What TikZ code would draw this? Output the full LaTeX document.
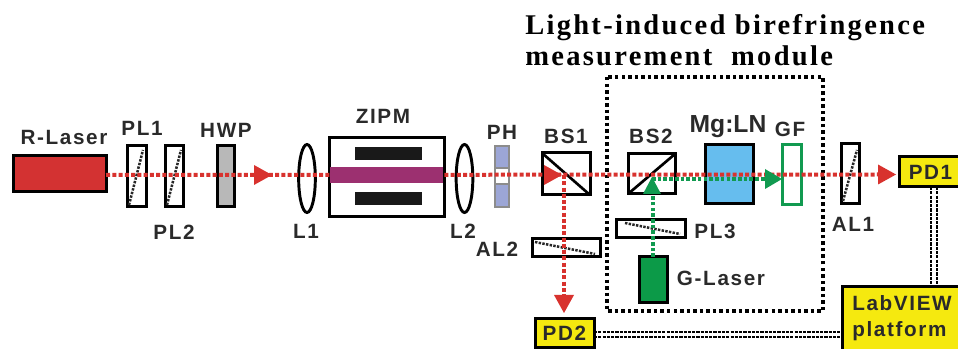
\documentclass[tikz,border=0pt]{standalone}
\usepackage{fontspec}
\setmainfont{Liberation Sans}
\newfontfamily\titlefont[LetterSpace=8]{Liberation Serif}
\newfontfamily\lblfont[LetterSpace=8]{Liberation Sans}
\usetikzlibrary{arrows.meta,shapes.geometric}
\definecolor{beamred}{HTML}{D8322E}
\definecolor{laserred}{HTML}{D33232}
\definecolor{beamgreen}{HTML}{119A50}
\definecolor{lasergreen}{HTML}{0C9A48}
\definecolor{zipmpurple}{HTML}{9C3070}
\definecolor{crystal}{HTML}{66BDEE}
\definecolor{phblue}{HTML}{9CA6D6}
\definecolor{pdyellow}{HTML}{F5E90F}
\definecolor{txt}{HTML}{2A2A2A}
\tikzset{
  x=0.75pt,y=-0.75pt,
  part/.style={draw=black,line width=2.25pt,inner sep=0pt,outer sep=0pt,fill=white},
  plate/.style={draw=black,line width=2.25pt,inner sep=0pt,outer sep=0pt,fill=white},
  lbl/.style={font=\fontsize{15.5}{15.5}\bfseries\lblfont,text=txt,inner sep=0pt},
  pdbox/.style={part,fill=pdyellow,font=\fontsize{15.5}{16}\bfseries\lblfont,text=txt,align=center},
  redbeam/.style={draw=beamred,line width=3pt,dash pattern=on 3pt off 1.7pt},
  greenbeam/.style={draw=beamgreen,line width=2.7pt,dash pattern=on 2.7pt off 1.6pt},
  redhead/.style={fill=beamred,draw=none},
  greenhead/.style={fill=beamgreen,draw=none},
  axisdots/.style={draw=black!85,line width=1.9pt,dash pattern=on 1.8pt off 1pt},
  signal/.style={draw=black,line width=1.5pt,dash pattern=on 2.4pt off 0.8pt},
  lens/.style={draw=black,line width=2.2pt,ellipse,inner sep=0pt,outer sep=0pt},
  title/.style={font=\fontsize{21.4}{21.4}\bfseries\titlefont,text=black,inner sep=0pt,anchor=base west},
}
\newcommand\pxbox[6][]{%
  \pgfmathsetmacro\cxx{(#3+#5)/2}\pgfmathsetmacro\cyy{(#4+#6)/2}%
  \node[#1,minimum width={(#5-#3)*0.75pt},minimum height={(#6-#4)*0.75pt}] (#2) at (\cxx,\cyy)}
\begin{document}
\begin{tikzpicture}
\useasboundingbox (0,0) rectangle (958,349);
% module frame
\draw[black,line width=2.8pt,dash pattern=on 2.6pt off 2.3pt] (607,77) rectangle (823,311);
% signal lines
\pxbox[pdbox]{pdtwo}{535}{319}{594}{348}{PD2};
\pxbox[pdbox]{pdone}{899}{157}{962}{187}{PD1};
\pxbox[pdbox]{lab}{842}{287}{975}{353}{};
\node[font=\fontsize{15.5}{19}\bfseries\lblfont,text=txt,align=left,anchor=west,inner sep=0pt] (labtext) at (852,318) {LabVIEW\\platform};
\coordinate (s1) at (930.5,187); \coordinate (s2) at (936.5,187);
\draw[signal] (s1) -- (s1 |- lab.north);
\draw[signal] (s2) -- (s2 |- lab.north);
\coordinate (s3) at (594,332.5); \coordinate (s4) at (594,337.5);
\draw[signal] (s3) -- (s3 -| lab.west);
\draw[signal] (s4) -- (s4 -| lab.west);
% sources
\pxbox[part,fill=laserred]{rlaser}{13}{156}{106}{192}{};
\pxbox[part,fill=lasergreen]{glaser}{639}{257}{667}{303}{};
% ZIPM
\pxbox[part]{zipm}{329}{138}{444}{217}{};
\pxbox[fill=black!90,inner sep=0pt,outer sep=0pt]{magtop}{355}{147}{422}{160}{};
\pxbox[fill=black!90,inner sep=0pt,outer sep=0pt]{magbot}{355}{192}{422}{205}{};
% plates
\pxbox[plate]{plone}{127}{146}{146}{207}{};
\pxbox[plate]{pltwo}{165}{146}{183}{207}{};
\pxbox[part,fill=black!28]{hwp}{217}{146}{234}{207}{};
\node[lens,minimum width=12.5pt,minimum height=51pt] (lone) at (307,178.5) {};
\node[lens,minimum width=12.5pt,minimum height=51pt] (ltwo) at (464.5,178.5) {};
\pxbox[draw=black!45,line width=0.8pt,fill=phblue,inner sep=0pt,outer sep=0pt]{phtop}{495}{146}{509}{168}{};
\pxbox[draw=black!45,line width=0.8pt,fill=phblue,inner sep=0pt,outer sep=0pt]{phbot}{495}{184}{509}{207}{};
\draw[black!45,line width=0.8pt] (phtop.south west) -- (phbot.north west) (phtop.south east) -- (phbot.north east);
\pxbox[part]{bsone}{542}{153}{590}{195}{};
\pxbox[part]{bstwo}{628}{154}{675}{194}{};
\draw[black,line width=2pt] (bsone.north west) -- (bsone.south east);
\draw[black,line width=2pt] (bstwo.south west) -- (bstwo.north east);
\pxbox[plate]{altwo}{532}{239}{600}{257}{};
\pxbox[plate]{plthree}{616}{220}{685}{238}{};
\pxbox[plate]{alone}{841}{144}{859}{204}{};
\pxbox[part,fill=crystal]{mgln}{705}{145}{753}{204}{};
\pxbox[draw=beamgreen,line width=2.25pt,fill=white,inner sep=0pt,outer sep=0pt]{gf}{782}{145}{801}{205}{};
% polariser axes
\draw[axisdots] ([shift={(2,-2)}]plone.south west) -- ([shift={(-3,4)}]plone.north east);
\draw[axisdots] ([shift={(2,-2)}]pltwo.south west) -- ([shift={(-2,4)}]pltwo.north east);
\draw[axisdots] ([shift={(3,3)}]altwo.north west) -- ([shift={(-5,-3)}]altwo.south east);
\draw[axisdots] ([shift={(9,3)}]plthree.north west) -- ([shift={(-5,-4)}]plthree.south east);
\draw[axisdots] ([shift={(2,-3)}]alone.south west) -- ([shift={(-2,6)}]alone.north east);
% beams
\coordinate (ra) at (rlaser.east |- 0,175);
\coordinate (rb) at (878,174.5);
\coordinate (downa) at (564,175);
\coordinate (downb) at (564,295);
\draw[redbeam] (ra) -- (rb);
\draw[redbeam] (downa) -- (downb);
\pxbox[fill=zipmpurple,inner sep=0pt,outer sep=0pt]{rod}{330}{167}{443}{183}{};
\draw[greenbeam] (glaser.north) -- (bstwo.south -| glaser.north);
\draw[greenbeam] (652,179) -- (765,179);
% arrowheads
\coordinate (h1) at (254,175);
\fill[redhead] (h1) ++(0,-10) -- ++(18,10) -- ++(-18,10) -- cycle;
\coordinate (h2) at (544,175);
\fill[redhead] (h2) ++(0,-10) -- ++(18,10) -- ++(-18,10) -- cycle;
\fill[redhead] (rb) ++(0,-10) -- ++(18,10) -- ++(-18,10) -- cycle;
\fill[redhead] (downb) ++(-10,0) -- ++(10,18) -- ++(10,-18) -- cycle;
\coordinate (h3) at (652,194);
\fill[greenhead] (h3) ++(-9,0) -- ++(9,-17) -- ++(9,17) -- cycle;
\coordinate (h4) at (765,179);
\fill[greenhead] (h4) ++(0,-10) -- ++(17,10) -- ++(-17,10) -- cycle;
% labels
\node[lbl] (t1) at (64,137) {R-Laser};
\node[lbl] (t2) at (142,128) {PL1};
\node[lbl] (t3) at (174,232) {PL2};
\node[lbl] (t4) at (226,130) {HWP};
\node[lbl] (t5) at (306,231) {L1};
\node[lbl] (t6) at (383,116) {ZIPM};
\node[lbl] (t7) at (463,231) {L2};
\node[lbl] (t8) at (502,132) {PH};
\node[lbl] (t9) at (566,136) {BS1};
\node[lbl] (t10) at (497,249) {AL2};
\node[lbl] (t11) at (651,136) {BS2};
\node[font=\fontsize{18.5}{18.5}\bfseries,text=txt,inner sep=0pt] (t12) at (728,127) {Mg:LN};
\node[lbl] (t13) at (790,129) {GF};
\node[lbl] (t14) at (853,224) {AL1};
\node[lbl] (t15) at (715,231) {PL3};
\node[lbl] (t16) at (721,278) {G-Laser};
\node[title] (t17) at (525,35) {Light-induced birefringence};
\node[title] (t18) at (525,66) {measurement\ \ module};
\end{tikzpicture}
\end{document}
